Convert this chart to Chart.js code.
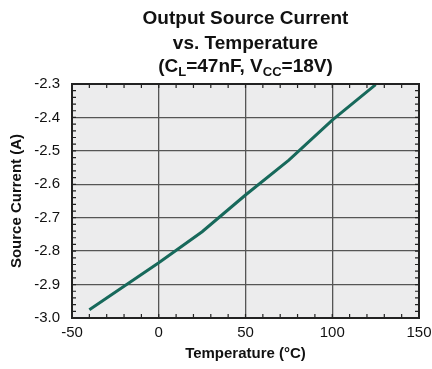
<!DOCTYPE html>
<html>
<head>
<meta charset="utf-8">
<script src="https://cdn.jsdelivr.net/npm/chart.js@4"></script>
<style>
  html, body { margin: 0; padding: 0; background: #fff; }
  #wrap { width: 432px; height: 369px; }
</style>
</head>
<body>
<div id="wrap"><canvas id="chart" width="432" height="369"></canvas></div>
<script>
// values
const temps = [-40, 0, 25, 50, 75, 100, 125];
const sourceCurrent = [-2.975, -2.835, -2.742, -2.632, -2.528, -2.408, -2.302];
const xTicks = [-50, 0, 50, 100, 150];
const yTicks = [-3.0, -2.9, -2.8, -2.7, -2.6, -2.5, -2.4, -2.3];

const FONT = 'Liberation Sans, Arial, Helvetica, sans-serif';

// gray plot background
const plotBg = {
    id: 'plotBg',
    beforeDraw(chart) {
        const a = chart.chartArea, c = chart.ctx;
        c.save();
        c.fillStyle = '#ececed';
        c.fillRect(a.left, a.top, a.right - a.left, a.bottom - a.top);
        c.restore();
    }
};

// small inside ticks on all four borders
const minorTicks = {
    id: 'minorTicks',
    afterDraw(chart) {
        const a = chart.chartArea, c = chart.ctx;
        const xs = chart.scales.x, ys = chart.scales.y;
        c.save();
        c.strokeStyle = '#222';
        c.lineWidth = 1.2;
        c.beginPath();
        for (let v = -50; v <= 150; v += 10) {
            const px = xs.getPixelForValue(v);
            c.moveTo(px, a.bottom); c.lineTo(px, a.bottom - 4);
            c.moveTo(px, a.top); c.lineTo(px, a.top + 4);
        }
        for (let i = 0; i <= 35; i++) {
            const py = ys.getPixelForValue(-3.0 + i * 0.02);
            c.moveTo(a.left, py); c.lineTo(a.left + 4, py);
            c.moveTo(a.right, py); c.lineTo(a.right - 4, py);
        }
        c.stroke();
        c.lineWidth = 2;
        c.strokeRect(a.left, a.top, a.right - a.left, a.bottom - a.top);
        c.restore();
    }
};

// three line title with subscripts
const titleLines = {
    id: 'titleLines',
    afterDraw(chart) {
        const a = chart.chartArea, c = chart.ctx;
        const cx = (a.left + a.right) / 2;
        const big = 'bold 19px ' + FONT, small = 'bold 13px ' + FONT;
        c.save();
        c.fillStyle = '#111';
        c.textBaseline = 'alphabetic';
        c.textAlign = 'center';
        c.font = big;
        c.fillText('Output Source Current', cx, 24);
        c.fillText('vs. Temperature', cx, 49);
        const parts = [['(C', big, 0], ['L', small, 4], ['=47nF, V', big, 0], ['CC', small, 4], ['=18V)', big, 0]];
        let w = 0;
        parts.forEach(p => { c.font = p[1]; w += c.measureText(p[0]).width; });
        let x = cx - w / 2;
        c.textAlign = 'left';
        parts.forEach(p => {
            c.font = p[1];
            c.fillText(p[0], x, 72 + p[2]);
            x += c.measureText(p[0]).width;
        });
        c.restore();
    }
};

new Chart(document.getElementById('chart'), {
    type: 'line',
    data: {
        datasets: [{
            data: temps.map((t, i) => ({ x: t, y: sourceCurrent[i] })),
            borderColor: '#17695b',
            borderWidth: 3,
            pointRadius: 0,
            tension: 0,
            fill: false
        }]
    },
    options: {
        responsive: false,
        animation: false,
        layout: { padding: { left: 0, top: 84, right: 13, bottom: 0 } },
        plugins: { legend: { display: false }, tooltip: { enabled: false } },
        scales: {
            x: {
                type: 'linear',
                min: -50, max: 150,
                afterBuildTicks: s => { s.ticks = xTicks.map(v => ({ value: v })); },
                afterFit: s => { s.height = 51; s.paddingLeft = 0; s.paddingRight = 0; },
                grid: { color: '#555', lineWidth: 1.3, drawTicks: false },
                border: { display: false },
                ticks: { color: '#111', padding: 6, font: { family: FONT, size: 15 } },
                title: {
                    display: true, text: 'Temperature (°C)', color: '#111',
                    font: { family: FONT, size: 15, weight: 'bold' },
                    padding: { top: 0, bottom: 6 }
                }
            },
            y: {
                min: -3.0, max: -2.3,
                afterBuildTicks: s => { s.ticks = yTicks.map(v => ({ value: v })); },
                afterFit: s => { s.width = 72; s.paddingTop = 0; s.paddingBottom = 0; },
                grid: { color: '#555', lineWidth: 1.3, drawTicks: false },
                border: { display: false },
                ticks: {
                    color: '#111', padding: 12, font: { family: FONT, size: 15 },
                    callback: v => v.toFixed(1)
                },
                title: {
                    display: true, text: 'Source Current (A)', color: '#111',
                    font: { family: FONT, size: 15, weight: 'bold' },
                    padding: { top: 8, bottom: 0 }
                }
            }
        }
    },
    plugins: [plotBg, minorTicks, titleLines]
});
</script>
</body>
</html>
